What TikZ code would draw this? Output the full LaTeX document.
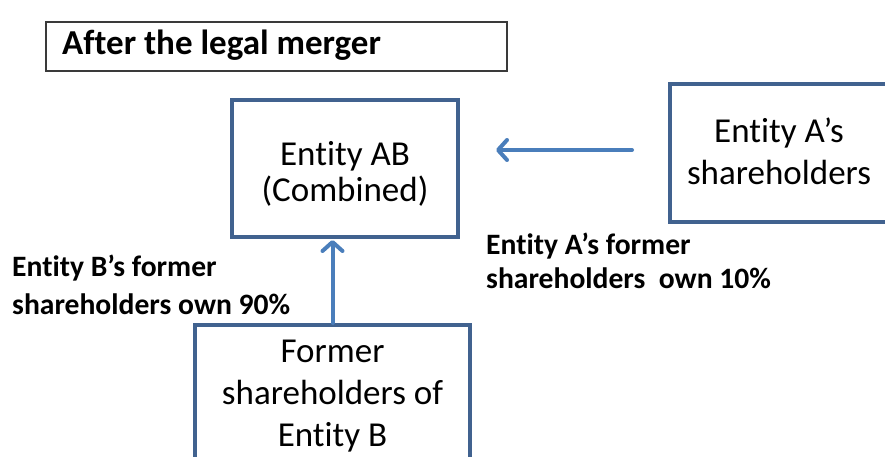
\documentclass[tikz,border=0pt]{standalone}
\usepackage{fontspec}
\setmainfont{Carlito}[Ligatures=NoCommon]
\usetikzlibrary{arrows.meta}
\definecolor{boxblue}{HTML}{41628F}
\definecolor{arrblue}{HTML}{4A7EBB}
\definecolor{titlegray}{HTML}{3A3A3A}
\begin{document}
\begin{tikzpicture}[x=1pt,y=-1pt,
  bluebox/.style={draw=boxblue, line width=4pt, fill=white, rectangle, inner sep=0pt},
  boxtext/.style={font=\fontsize{35}{#1}\selectfont, align=center, anchor=base, inner sep=0pt},
  lbl/.style={font=\bfseries\fontsize{29.6}{#1}\selectfont, align=left, anchor=base west, inner sep=0pt},
  arr/.style={draw=arrblue, line width=4pt, line cap=round,
    -{Straight Barb[length=9pt,width=20pt,line cap=round,line join=round]}}
]
\useasboundingbox (0,0) rectangle (885,457);
\clip (0,0) rectangle (885,457);

\node[draw=titlegray, line width=1.5pt, fill=white, minimum width=461pt, minimum height=49pt, inner sep=0pt] (title) at (276.5,46.5) {};
\node[font=\bfseries\fontsize{35}{40}\selectfont, anchor=base west, inner sep=0pt] (titlet) at (62,55) {After the legal merger};

\node[bluebox, minimum width=226pt, minimum height=137pt] (ab) at (345,168.5) {};
\node[boxtext=35.5] (abt) at (345,201) {Entity AB\\(Combined)};

\node[bluebox, minimum width=218pt, minimum height=138pt] (ea) at (779,153) {};
\node[boxtext=43] (eat) at (779,185) {Entity A’s\\shareholders};

\node[bluebox, minimum width=275pt, minimum height=175pt] (bb) at (332.5,412.5) {};
\node[boxtext=42] (bbt) at (332.5,446) {Former\\shareholders of\\Entity B};

\node[lbl=34] (la) at (486,288) {Entity A’s former\\shareholders\ \ own 10\%};
\node[lbl=38] (lb) at (12,314) {Entity B’s former\\shareholders own 90\%};

\coordinate (ay) at (0,150);
\draw[arr, shorten <=36pt, shorten >=36pt] (ea.west |- ay) -- (ab.east |- ay);
\draw[arr, shorten >=1pt] (bb.north) -- (ab.south -| bb.north);
\end{tikzpicture}
\end{document}
